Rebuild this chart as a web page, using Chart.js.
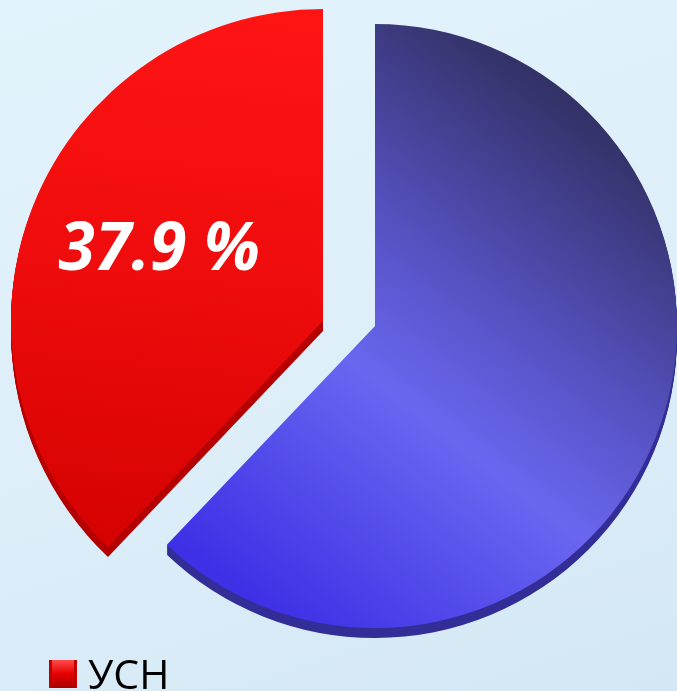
<!DOCTYPE html>
<html>
<head>
<meta charset="utf-8">
<script src="https://cdn.jsdelivr.net/npm/chart.js@4/dist/chart.umd.min.js"></script>
<style>
    html, body { margin: 0; padding: 0; width: 677px; height: 691px; overflow: hidden; }
    body {
        position: relative;
        background: linear-gradient(162deg, #e3f3fc 0%, #ddeef9 55%, #d3e8f4 100%);
        font-family: 'Open Sans', sans-serif;
    }
    #wrap { position: absolute; left: 0; top: 0; width: 750px; height: 652px; }
    #legend { position: absolute; left: 49px; top: 653px; display: flex; align-items: center; gap: 11px; font-size: 41px; color: #000; line-height: 1; }
    .swatch {
        width: 28px; height: 28px;
        background: linear-gradient(180deg, #ff4a4a 0%, #e60000 50%, #a80000 100%);
        box-shadow: inset 3px 0 0 #c00000, inset -3px 0 0 #c00000;
    }
</style>
</head>
<body>
<div id="wrap"><canvas id="pie" width="750" height="652"></canvas></div>
<div id="legend"><span class="swatch"></span><span>УСН</span></div>
<script>
const labels = ['УСН', 'ОСН'];
const values = [37.9, 62.1];
const valueLabels = ['37.9 %', ''];

// pulled-out slice: shift and extra radius per slice
const explode = [[-52, -5, 10], [0, 0, 0]];

const pullOut = {
    id: 'pullOut',
    afterUpdate(chart) {
        chart.getDatasetMeta(0).data.forEach((arc, i) => {
            arc.x += explode[i][0];
            arc.y += explode[i][1];
            arc.outerRadius += explode[i][2];
        });
    }
};

// 3D-ish side under each slice
const extrude = {
    id: 'extrude',
    beforeDatasetsDraw(chart) {
        const ctx = chart.ctx;
        const sides = ['#b40000', '#332d98'];
        chart.getDatasetMeta(0).data.forEach((arc, i) => {
            ctx.save();
            ctx.fillStyle = sides[i];
            for (let d = 1; d <= 10; d++) {
                ctx.beginPath();
                ctx.moveTo(arc.x, arc.y + d);
                ctx.arc(arc.x, arc.y + d, arc.outerRadius, arc.startAngle, arc.endAngle);
                ctx.closePath();
                ctx.fill();
            }
            ctx.restore();
        });
    }
};

const sliceLabels = {
    id: 'sliceLabels',
    afterDatasetsDraw(chart) {
        const ctx = chart.ctx;
        chart.getDatasetMeta(0).data.forEach((arc, i) => {
            if (!valueLabels[i]) return;
            const mid = (arc.startAngle + arc.endAngle) / 2;
            const dist = arc.outerRadius * 0.565;
            ctx.save();
            ctx.fillStyle = '#ffffff';
            ctx.font = 'italic bold 66px "Open Sans", sans-serif';
            ctx.textAlign = 'center';
            ctx.textBaseline = 'middle';
            ctx.fillText(valueLabels[i], arc.x + Math.cos(mid) * dist, arc.y + Math.sin(mid) * dist - 4);
            ctx.restore();
        });
    }
};

function sliceFill(c) {
    const ctx = c.chart.ctx;
    if (c.dataIndex === 0) {
        const g = ctx.createLinearGradient(200, 0, 150, 540);
        g.addColorStop(0, '#ff1414');
        g.addColorStop(0.5, '#ef0c0c');
        g.addColorStop(1, '#d60202');
        return g;
    }
    const g = ctx.createLinearGradient(640, 70, 240, 590);
    g.addColorStop(0, '#282749');
    g.addColorStop(0.42, '#5652c2');
    g.addColorStop(0.62, '#6a66f0');
    g.addColorStop(1, '#3e30e6');
    return g;
}

new Chart(document.getElementById('pie'), {
    type: 'pie',
    data: {
        labels: labels,
        datasets: [{
            data: values,
            backgroundColor: sliceFill,
            borderWidth: 0,
            radius: 302
        }]
    },
    options: {
        responsive: false,
        animation: false,
        events: [],
        rotation: 360 * values[1] / 100,
        layout: { padding: 0 },
        plugins: {
            legend: { display: false },
            tooltip: { enabled: false }
        }
    },
    plugins: [pullOut, extrude, sliceLabels]
});
</script>
</body>
</html>
